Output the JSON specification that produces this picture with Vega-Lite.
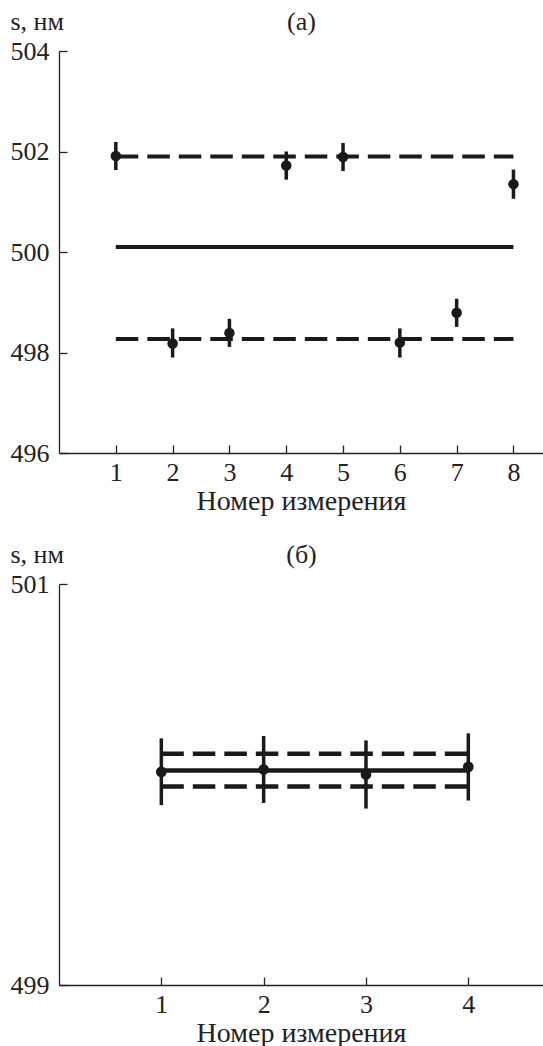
{
  "$schema": "https://vega.github.io/schema/vega-lite/v6.json",
  "background": "white",
  "padding": {"left": 10, "top": 8, "right": 0, "bottom": 0},
  "spacing": 26,
  "config": {
    "font": "Liberation Serif",
    "view": {"stroke": null},
    "axis": {
      "grid": false,
      "domainColor": "#222222",
      "domainWidth": 1.3,
      "tickColor": "#222222",
      "tickWidth": 1.3,
      "tickSize": -8,
      "labelFont": "Liberation Serif",
      "labelFontSize": 26,
      "labelColor": "#222222",
      "labelFlush": false,
      "labelOverlap": false,
      "titleFont": "Liberation Serif",
      "titleFontSize": 26,
      "titleFontWeight": "normal",
      "titleColor": "#222222"
    }
  },
  "datasets": {
    "ptsA": [
      {"n": 1, "s": 501.91, "lo": 501.63, "hi": 502.19},
      {"n": 2, "s": 498.18, "lo": 497.9, "hi": 498.48},
      {"n": 3, "s": 498.39, "lo": 498.11, "hi": 498.67},
      {"n": 4, "s": 501.72, "lo": 501.44, "hi": 502.0},
      {"n": 5, "s": 501.89, "lo": 501.61, "hi": 502.17},
      {"n": 6, "s": 498.2, "lo": 497.9, "hi": 498.48},
      {"n": 7, "s": 498.79, "lo": 498.51, "hi": 499.07},
      {"n": 8, "s": 501.35, "lo": 501.06, "hi": 501.64}
    ],
    "linesA": [
      {"x1": 1, "x2": 8, "s": 501.9, "style": "dash"},
      {"x1": 1, "x2": 8, "s": 498.27, "style": "dash"},
      {"x1": 1, "x2": 8, "s": 500.1, "style": "solid"}
    ],
    "ptsB": [
      {"n": 1, "s": 500.063, "lo": 499.897, "hi": 500.23},
      {"n": 2, "s": 500.075, "lo": 499.908, "hi": 500.242},
      {"n": 3, "s": 500.05, "lo": 499.88, "hi": 500.22},
      {"n": 4, "s": 500.088, "lo": 499.92, "hi": 500.255}
    ],
    "linesB": [
      {"x1": 1, "x2": 4, "s": 500.153, "style": "dash"},
      {"x1": 1, "x2": 4, "s": 499.99, "style": "dash"},
      {"x1": 1, "x2": 4, "s": 500.07, "style": "solid"}
    ]
  },
  "vconcat": [
    {
      "width": 484,
      "height": 402,
      "resolve": {"axis": {"x": "independent"}},
      "layer": [
        {
          "data": {"name": "linesA"},
          "mark": {"type": "rule", "strokeWidth": 4, "color": "#1a1a1a"},
          "encoding": {
            "x": {"field": "x1", "type": "quantitative", "scale": {"domain": [0, 8.52], "nice": false},
              "axis": {"values": [1, 2, 3, 4, 5, 6, 7, 8], "format": "d", "labelPadding": 14, "title": "Номер измерения", "titleFontSize": 28, "titlePadding": 2}},
            "x2": {"field": "x2"},
            "y": {"field": "s", "type": "quantitative", "scale": {"domain": [496, 504], "nice": false, "zero": false},
              "axis": {"values": [496, 498, 500, 502, 504], "format": "d", "labelPadding": 18, "title": "s, нм", "titleAngle": 0, "titleAlign": "left", "titleBaseline": "alphabetic", "titleX": -49, "titleY": -22}},
            "strokeDash": {"field": "style", "type": "nominal", "scale": {"domain": ["solid", "dash"], "range": [[1, 0], [22.5, 9]]}, "legend": null}
          }
        },
        {
          "data": {"name": "ptsA"},
          "mark": {"type": "rule", "strokeWidth": 3.5, "color": "#1a1a1a"},
          "encoding": {
            "x": {"field": "n", "type": "quantitative", "axis": null},
            "y": {"field": "lo", "type": "quantitative"},
            "y2": {"field": "hi"}
          }
        },
        {
          "data": {"name": "ptsA"},
          "mark": {"type": "point", "filled": true, "size": 110, "color": "#1a1a1a", "opacity": 1},
          "encoding": {
            "x": {"field": "n", "type": "quantitative",
              "axis": {"orient": "top", "domain": false, "ticks": false, "labels": false, "title": "(a)", "titleBaseline": "alphabetic", "titleY": -22}},
            "y": {"field": "s", "type": "quantitative"}
          }
        }
      ]
    },
    {
      "width": 484,
      "height": 401,
      "resolve": {"axis": {"x": "independent"}},
      "layer": [
        {
          "data": {"name": "linesB"},
          "mark": {"type": "rule", "strokeWidth": 4.5, "color": "#1a1a1a"},
          "encoding": {
            "x": {"field": "x1", "type": "quantitative", "scale": {"domain": [0, 4.73], "nice": false},
              "axis": {"values": [1, 2, 3, 4], "format": "d", "labelPadding": 14, "title": "Номер измерения", "titleFontSize": 28, "titlePadding": 2}},
            "x2": {"field": "x2"},
            "y": {"field": "s", "type": "quantitative", "scale": {"domain": [499, 501], "nice": false, "zero": false},
              "axis": {"values": [499, 500, 501], "format": "d", "labelPadding": 18, "title": "s, нм", "titleAngle": 0, "titleAlign": "left", "titleBaseline": "alphabetic", "titleX": -49, "titleY": -22}},
            "strokeDash": {"field": "style", "type": "nominal", "scale": {"domain": ["solid", "dash"], "range": [[1, 0], [22.5, 9]]}, "legend": null}
          }
        },
        {
          "data": {"name": "ptsB"},
          "mark": {"type": "rule", "strokeWidth": 3.5, "color": "#1a1a1a"},
          "encoding": {
            "x": {"field": "n", "type": "quantitative", "axis": null},
            "y": {"field": "lo", "type": "quantitative"},
            "y2": {"field": "hi"}
          }
        },
        {
          "data": {"name": "ptsB"},
          "mark": {"type": "point", "filled": true, "size": 115, "color": "#1a1a1a", "opacity": 1},
          "encoding": {
            "x": {"field": "n", "type": "quantitative",
              "axis": {"orient": "top", "domain": false, "ticks": false, "labels": false, "title": "(б)", "titleBaseline": "alphabetic", "titleY": -22}},
            "y": {"field": "s", "type": "quantitative"}
          }
        }
      ]
    }
  ]
}
